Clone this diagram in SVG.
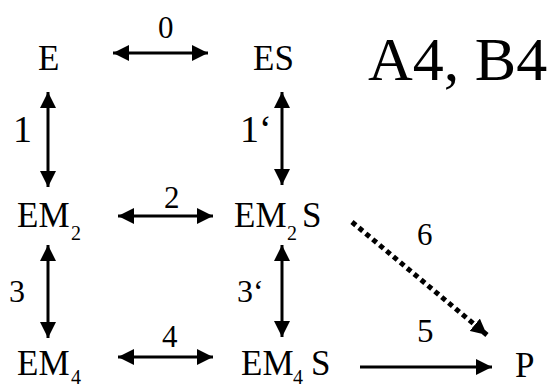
<svg xmlns="http://www.w3.org/2000/svg" width="554" height="388" viewBox="0 0 554 388">
<style>
text{font-family:'Liberation Serif','Times New Roman',serif;fill:#000}
.n{font-size:35px}
.sub{font-size:20px}
.lb{font-size:31px}
.ln{stroke:#000;stroke-width:3;fill:none}
.dot{stroke:#000;stroke-width:5;fill:none;stroke-dasharray:5 4}
</style>
<defs>
<marker id="ah" viewBox="0 0 16 16" refX="16" refY="8" markerWidth="16" markerHeight="16" markerUnits="userSpaceOnUse" orient="auto-start-reverse">
<path d="M0,0 L16,8 L0,16 z" fill="#000"/>
</marker>
</defs>
<rect width="554" height="388" fill="#fff"/>
<g id="E"><text class="n" x="38" y="70">E</text></g>
<g id="ES"><text class="n" x="253" y="70">ES</text></g>
<g id="EM2"><text class="n" x="17" y="227">EM</text><text class="sub" x="71" y="240">2</text></g>
<g id="EM2S"><text class="n" x="234" y="227">EM</text><text class="sub" x="287" y="240">2</text><text class="n" x="302" y="227">S</text></g>
<g id="EM4"><text class="n" x="17" y="375">EM</text><text class="sub" x="71" y="384">4</text></g>
<g id="EM4S"><text class="n" x="241" y="375">EM</text><text class="sub" x="293" y="384">4</text><text class="n" x="311" y="375">S</text></g>
<g id="P"><text class="n" x="515" y="377">P</text></g>
<g id="title"><text x="368" y="80" style="font-size:62px">A4, B4</text></g>
<g id="connectors">
<line class="ln" x1="113" y1="53" x2="208" y2="53" marker-start="url(#ah)" marker-end="url(#ah)"/>
<line class="ln" x1="48" y1="92" x2="48" y2="187" marker-start="url(#ah)" marker-end="url(#ah)"/>
<line class="ln" x1="282" y1="92" x2="282" y2="185" marker-start="url(#ah)" marker-end="url(#ah)"/>
<line class="ln" x1="118" y1="216" x2="213" y2="216" marker-start="url(#ah)" marker-end="url(#ah)"/>
<line class="ln" x1="48" y1="245" x2="48" y2="338" marker-start="url(#ah)" marker-end="url(#ah)"/>
<line class="ln" x1="282" y1="245" x2="282" y2="337" marker-start="url(#ah)" marker-end="url(#ah)"/>
<line class="ln" x1="118" y1="357" x2="213" y2="357" marker-start="url(#ah)" marker-end="url(#ah)"/>
<line class="ln" x1="360" y1="367" x2="492" y2="367" marker-end="url(#ah)"/>
<line class="dot" x1="352" y1="222" x2="487" y2="335" marker-end="url(#ah)"/>
</g>
<g id="labels">
<text class="lb" x="158" y="38">0</text>
<text class="lb" x="13" y="142" style="font-size:38px">1</text>
<text class="lb" x="240" y="142" style="font-size:38px">1‘</text>
<text class="lb" x="164" y="208">2</text>
<text class="lb" x="9" y="302" style="font-size:32px">3</text>
<text class="lb" x="237" y="302" style="font-size:32px">3‘</text>
<text class="lb" x="162" y="347">4</text>
<text class="lb" x="417" y="245">6</text>
<text class="lb" x="417" y="342" style="font-size:33px">5</text>
</g>
</svg>
